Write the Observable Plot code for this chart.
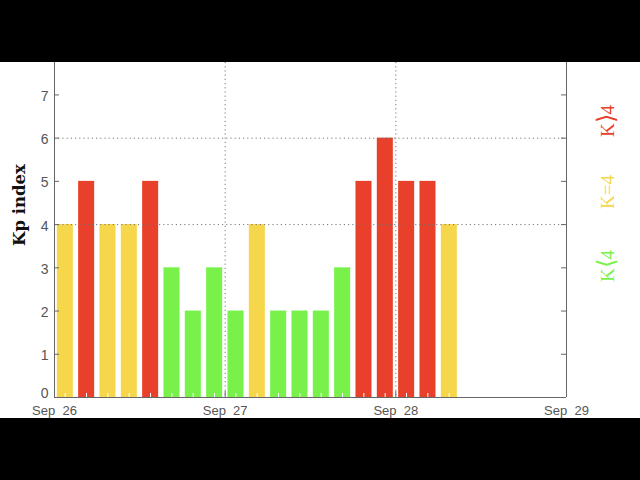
<!DOCTYPE html>
<html>
<head>
<meta charset="utf-8">
<script src="https://cdn.jsdelivr.net/npm/d3@7"></script>
<script src="https://cdn.jsdelivr.net/npm/@observablehq/plot@0.6"></script>
<style>
  html, body { margin: 0; padding: 0; background: #000; width: 640px; height: 480px; overflow: hidden; }
  #top { height: 62px; background: #000; }
  #chart svg { display: block; background: #fff; }
</style>
</head>
<body>
<div id="top"></div>
<div id="chart"></div>
<script>
// ---- data ----
const startDate = "2023-09-26T00:00Z";
const kpValues = [4, 5, 4, 4, 5, 3, 2, 3, 2, 4, 2, 2, 2, 3, 5, 6, 5, 5, 4];
const dayTicks = ["2023-09-26", "2023-09-27", "2023-09-28", "2023-09-29"];
const dayLabels = ["Sep\u00a0 26", "Sep\u00a0 27", "Sep\u00a0 28", "Sep\u00a0 29"];
const yTicks = [0, 1, 2, 3, 4, 5, 6, 7];
const gridY = [4, 6];
const yTitle = "Kp index";
const legendLabels = ["K\u27E94", "K=4", "K\u27E84"];
const legendColors = ["#e8402a", "#f6d64a", "#78f24a"];

// ---- derived ----
const t0 = new Date(startDate);
const H3 = 3 * 3600 * 1000;
const bars = kpValues.map((kp, i) => ({
  start: new Date(+t0 + i * H3),
  end: new Date(+t0 + (i + 1) * H3),
  kp,
  cls: kp > 4 ? legendLabels[0] : kp === 4 ? legendLabels[1] : legendLabels[2]
}));
const days = dayTicks.map(d => new Date(d + "T00:00Z"));
const mids = d3.range(24).map(i => new Date(+t0 + (i + 0.5) * H3));
const labelOf = new Map(days.map((d, i) => [+d, dayLabels[i]]));

const W = 640, Hh = 356;
const mL = 54, mR = 74, mT = 0, mB = 21;
const pw = W - mL - mR, ph = Hh - mT - mB;
const axisColor = "#666";
const gridColor = "#777";

const chart = Plot.plot({
  width: W,
  height: Hh,
  marginLeft: mL,
  marginRight: mR,
  marginTop: mT,
  marginBottom: mB,
  style: { background: "#fff", fontFamily: "'Liberation Sans', Arial, sans-serif", overflow: "visible" },
  x: { type: "utc", domain: [days[0], days[days.length - 1]] },
  y: { domain: [0, 7.75] },
  color: { domain: legendLabels, range: legendColors },
  marks: [
    Plot.rectY(bars, { x1: "start", x2: "end", y: "kp", fill: "cls", insetLeft: 2.8, insetRight: 2.5 }),
    // white minor ticks at interval mid-points
    Plot.tickX(mids, { x: d => d, stroke: "#fff", strokeWidth: 1, insetTop: ph - 4 }),
    // dotted grid
    Plot.ruleY(gridY, { stroke: gridColor, strokeDasharray: "1.2,3", strokeWidth: 1 }),
    Plot.ruleX(days.slice(1, 3), { stroke: gridColor, strokeDasharray: "1.2,3", strokeWidth: 1 }),
    // frame
    Plot.ruleX([days[0], days[days.length - 1]], { stroke: axisColor, strokeWidth: 1 }),
    Plot.ruleY([0], { stroke: axisColor, strokeWidth: 1 }),
    // inward ticks
    Plot.tickY(yTicks.slice(1), { y: d => d, stroke: axisColor, insetRight: pw - 5 }),
    Plot.tickY(yTicks.slice(1), { y: d => d, stroke: axisColor, insetLeft: pw - 5 }),
    Plot.tickX(days, { x: d => d, stroke: axisColor, insetTop: ph - 6 }),
    // axes labels
    Plot.axisY({ ticks: yTicks.slice(1), tickSize: 0, tickPadding: 6, fontSize: 14, fill: "#555", label: null, dy: 1.5 }),
    Plot.axisY({ ticks: yTicks.slice(0, 1), tickSize: 0, tickPadding: 6, fontSize: 14, fill: "#555", label: null, dy: -4 }),
    Plot.axisX({ ticks: days, tickSize: 0, tickPadding: 8, fontSize: 13, fill: "#555", label: null,
                 tickFormat: d => labelOf.get(+d) }),
    // y title and legend (positioned below)
    Plot.text([yTitle], { frameAnchor: "left", text: d => d }),
    Plot.text(legendLabels, { frameAnchor: "right", text: d => d })
  ]
});

// layout constants for the texts outside the frame
const legendY = [59, 130, 204];
chart.querySelectorAll("text").forEach(t => {
  const s = t.textContent;
  if (s === yTitle) {
    t.setAttribute("transform", `translate(19,143) rotate(-90)`);
    t.removeAttribute("x"); t.removeAttribute("y");
    t.setAttribute("text-anchor", "middle");
    t.setAttribute("dy", "0.35em");
    t.setAttribute("font-family", "'DejaVu Serif', serif");
    t.setAttribute("font-weight", "bold");
    t.setAttribute("font-size", "16.5");
    t.setAttribute("fill", "#111");
    t.closest("g").removeAttribute("transform");
  }
  const i = legendLabels.indexOf(s);
  if (i >= 0 && t.closest("g[aria-label='text']")) {
    t.closest("g").removeAttribute("transform");
    const x = W - mR + 41;
    t.setAttribute("transform", `translate(${x},${legendY[i]}) rotate(-90)`);
    t.removeAttribute("x"); t.removeAttribute("y");
    t.setAttribute("fill", legendColors[i]);
    t.setAttribute("font-family", "'Liberation Serif', serif");
    t.setAttribute("font-size", "19");
    t.setAttribute("text-anchor", "middle");
    t.setAttribute("dy", "0.35em");
    if (s.includes("\u27E9") || s.includes("\u27E8")) {
      const br = s[1];
      t.textContent = "";
      const ns = "http://www.w3.org/2000/svg";
      const a = document.createElementNS(ns, "tspan"); a.textContent = "K";
      const b = document.createElementNS(ns, "tspan"); b.textContent = br;
      b.setAttribute("style", "font-family: 'DejaVu Sans'; font-size: 24px; font-weight: 200");
      const c = document.createElementNS(ns, "tspan"); c.textContent = "4";
      t.append(a, b, c);
    }
  }
});
document.getElementById("chart").appendChild(chart);
</script>
</body>
</html>
